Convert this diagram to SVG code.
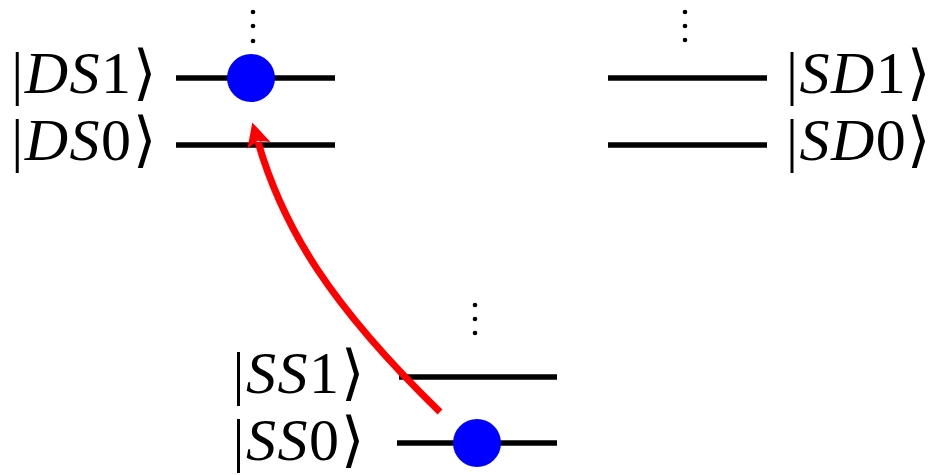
<svg xmlns="http://www.w3.org/2000/svg" width="934" height="475" viewBox="0 0 934 475">
<style>
.lvl{stroke:#000;stroke-width:5.5;fill:none}
.dot{fill:#000}
.ball{fill:#0000ff}
.arr{stroke:#ff0000;stroke-width:7;fill:none}
</style>
<defs>
<marker id="ah" markerUnits="userSpaceOnUse" markerWidth="24" markerHeight="24" viewBox="0 0 20 20" refX="3" refY="10" orient="auto">
<path d="M0,0 L20,10 L0,20 L4,10 Z" fill="#ff0000"/>
</marker>
</defs>
<g font-size="60" fill="#000">
<g id="DS1">
<line class="lvl" x1="176" y1="78" x2="335" y2="78"/>
<text font-family="Liberation Serif" x="157" y="93" text-anchor="end" letter-spacing="1.5">|<tspan font-style="italic">DS</tspan>1⟩</text>
</g>
<g id="DS0">
<line class="lvl" x1="176" y1="145" x2="335" y2="145"/>
<text font-family="Liberation Serif" x="157" y="160" text-anchor="end" letter-spacing="1.5">|<tspan font-style="italic">DS</tspan>0⟩</text>
</g>
<g id="DS-dots">
<circle class="dot" cx="253" cy="12" r="2.3"/>
<circle class="dot" cx="253" cy="26" r="2.3"/>
<circle class="dot" cx="253" cy="41" r="2.3"/>
</g>
<g id="SD1">
<line class="lvl" x1="608" y1="78" x2="767" y2="78"/>
<text font-family="Liberation Serif" x="786" y="93" letter-spacing="1.5">|<tspan font-style="italic">SD</tspan>1⟩</text>
</g>
<g id="SD0">
<line class="lvl" x1="608" y1="145" x2="767" y2="145"/>
<text font-family="Liberation Serif" x="786" y="160" letter-spacing="1.5">|<tspan font-style="italic">SD</tspan>0⟩</text>
</g>
<g id="SD-dots">
<circle class="dot" cx="685" cy="12" r="2.3"/>
<circle class="dot" cx="685" cy="26" r="2.3"/>
<circle class="dot" cx="685" cy="40" r="2.3"/>
</g>
<g id="SS1">
<line class="lvl" x1="399" y1="377" x2="557" y2="377"/>
<text font-family="Liberation Serif" x="365" y="393" text-anchor="end" letter-spacing="1.5">|<tspan font-style="italic">SS</tspan>1⟩</text>
</g>
<g id="SS0">
<line class="lvl" x1="397" y1="443" x2="557" y2="443"/>
<text font-family="Liberation Serif" x="365" y="460" text-anchor="end" letter-spacing="1.5">|<tspan font-style="italic">SS</tspan>0⟩</text>
</g>
<g id="SS-dots">
<circle class="dot" cx="475" cy="305" r="2.3"/>
<circle class="dot" cx="475" cy="319" r="2.3"/>
<circle class="dot" cx="475" cy="333" r="2.3"/>
</g>
</g>
<g id="connectors">
<path class="arr" d="M440,412 C330,305 283,228 258,142" marker-end="url(#ah)"/>
</g>
<g id="balls">
<circle class="ball" cx="251" cy="78" r="24"/>
<circle class="ball" cx="477" cy="443" r="24"/>
</g>
</svg>
